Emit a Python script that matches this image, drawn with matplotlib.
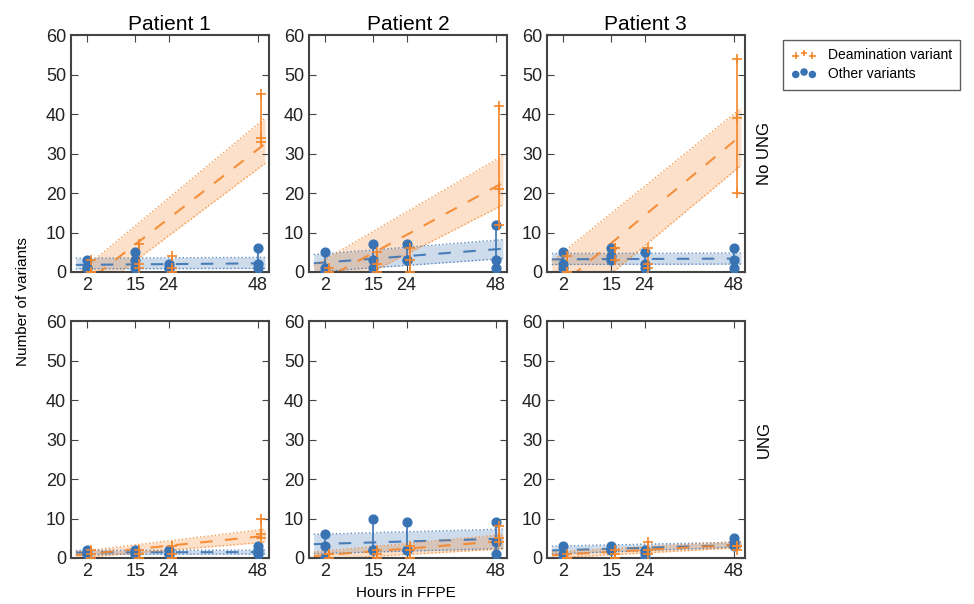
import matplotlib
matplotlib.use('Agg')
import matplotlib.pyplot as plt
import numpy as np

plt.rcParams['font.family'] = ['Liberation Sans', 'DejaVu Sans']

hours = [2, 15, 24, 48]
patients = ['Patient 1', 'Patient 2', 'Patient 3']
rows = ['No UNG', 'UNG']

# three replicates per time point, [row][patient][hour]
deam = [
    [[[3, 0, 0], [7, 2, 1], [4, 1, 0], [45, 34, 33]],
     [[1, 0, 0], [5, 2, 0], [6, 3, 0], [42, 21, 12]],
     [[4, 0, 0], [6, 6, 3], [6, 2, 1], [54, 39, 20]]],
    [[[2, 1, 0], [2, 1, 0], [3, 1, 0], [10, 6, 5]],
     [[1, 1, 0], [2, 1, 0], [3, 2, 0], [8, 5, 4]],
     [[1, 0, 0], [2, 1, 0], [4, 2, 1], [3, 3, 2]]],
]
other = [
    [[[3, 1, 1], [5, 3, 1], [2, 1, 1], [6, 2, 1]],
     [[5, 1, 0], [7, 3, 1], [7, 3, 3], [12, 3, 1]],
     [[5, 2, 1], [6, 4, 3], [5, 2, 1], [6, 3, 1]]],
    [[[2, 1, 1], [2, 1, 1], [2, 1, 1], [3, 2, 1]],
     [[6, 3, 0], [10, 2, 2], [9, 2, 2], [9, 4, 1]],
     [[3, 1, 0], [3, 2, 2], [2, 1, 0], [5, 4, 3]]],
]

# fitted line and band read at x = -1 and x = 50: (line, low, high)
fit_x = [-1, 50]
deam_fit = [
    [[(-4.7, 32.5), (-8.5, 27.5), (-0.8, 39.0)],
     [(-3.3, 22.6), (-7.5, 17.0), (1.5, 29.5)],
     [(-5.2, 34.6), (-13.0, 27.0), (2.7, 41.5)]],
    [[(0.7, 5.6), (0.0, 4.0), (1.5, 7.3)],
     [(0.5, 4.3), (-0.5, 2.3), (1.5, 5.9)],
     [(0.7, 3.4), (0.0, 2.6), (1.5, 4.2)]],
]
other_fit = [
    [[(1.8, 2.2), (0.8, 0.9), (3.5, 3.7)],
     [(2.2, 5.9), (0.0, 3.4), (4.4, 8.2)],
     [(3.2, 3.4), (1.9, 2.0), (4.7, 4.8)]],
    [[(1.4, 1.5), (0.9, 1.0), (1.9, 2.0)],
     [(3.5, 4.9), (1.1, 2.4), (6.0, 7.3)],
     [(1.9, 3.3), (1.0, 2.8), (3.0, 4.0)]],
]

orange = '#f5862a'
blue = '#3a73b3'

fig = plt.figure(figsize=(9.74, 6.04), dpi=100)
lefts = [0.0729, 0.3172, 0.5616]
bottoms = [0.5497, 0.0762]
handles = {}

for r in range(2):
    for p in range(3):
        ax = fig.add_axes([lefts[p], bottoms[r], 0.203, 0.392])
        for data, fit, col, mk, dx in [(other[r][p], other_fit[r][p], blue, 'o', 0),
                                       (deam[r][p], deam_fit[r][p], orange, '+', 1)]:
            line, low, high = fit
            ax.fill_between(fit_x, low, high, color=col, alpha=0.25, lw=0)
            ax.plot(fit_x, low, ls=':', color=col, lw=1, alpha=0.8)
            ax.plot(fit_x, high, ls=':', color=col, lw=1, alpha=0.8)
            ax.plot(fit_x, line, ls=(0, (6, 6)), color=col, lw=1.5, alpha=0.9)
            for h, vals in zip(hours, data):
                xx = h + dx
                ax.plot([xx, xx], [min(vals), max(vals)], color=col, lw=1.2)
                if mk == 'o':
                    sc = ax.scatter([xx] * 3, vals, marker='o', color=col, s=40, zorder=3)
                else:
                    sc = ax.scatter([xx] * 3, vals, marker='+', color=col, s=45,
                                    linewidths=1.2, zorder=3)
                handles[mk] = sc
        ax.set_xlim(-2.3, 51)
        ax.set_ylim(0, 60)
        ax.set_xticks(hours)
        ax.set_yticks(range(0, 61, 10))
        ax.tick_params(direction='in', top=True, right=True, labelsize=13,
                       length=5, color='#444444', labelcolor='#222222')
        for s in ax.spines.values():
            s.set_color('#444444')
            s.set_linewidth(1.5)
        if r == 0:
            ax.set_title(patients[p], fontsize=15, pad=4)
        if p == 2:
            ax.text(1.06, 0.5, rows[r], rotation=90, transform=ax.transAxes,
                    ha='left', va='center', fontsize=12)

fig.text(0.024, 0.5, 'Number of variants', rotation=90, ha='center', va='center', fontsize=11)
fig.text(0.417, 0.018, 'Hours in FFPE', ha='center', va='center', fontsize=11)

leg = fig.legend([handles['+'], handles['o']], ['Deamination variant', 'Other variants'],
                 loc='upper left', bbox_to_anchor=(0.797, 0.945), fontsize=10,
                 scatterpoints=3, scatteryoffsets=[0.4, 0.65, 0.4], markerscale=0.7,
                 frameon=True, fancybox=False, handlelength=1.8,
                 handletextpad=0.8, borderpad=0.6, labelspacing=0.35)
leg.get_frame().set_edgecolor('#333333')
leg.get_frame().set_linewidth(1)

fig.savefig('out.png', dpi=100)
